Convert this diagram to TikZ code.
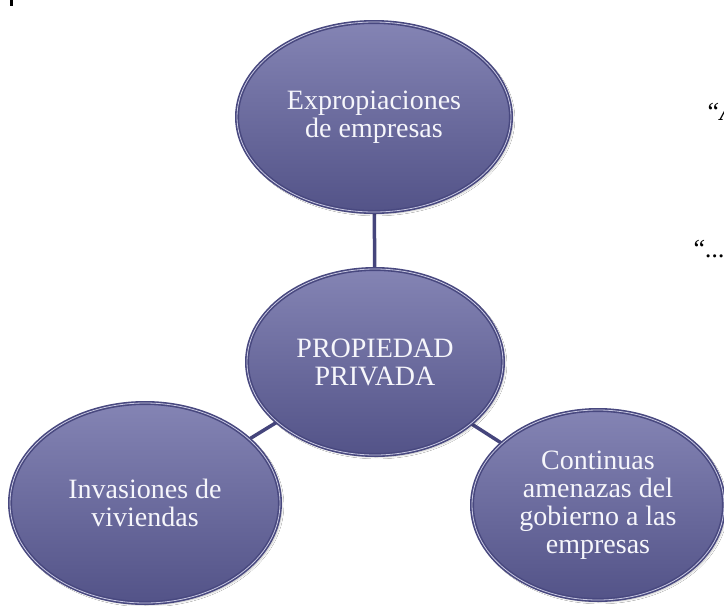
\documentclass[tikz,border=0pt]{standalone}
\usepackage{fontspec}
\setmainfont{Liberation Serif}
\usetikzlibrary{shapes.geometric,shadows.blur}
\pgfdeclarelayer{bg}
\pgfsetlayers{bg,main}
\definecolor{ringc}{HTML}{48487F}
\definecolor{ringlight}{HTML}{C8C8E2}
\definecolor{topc}{HTML}{8484B4}
\definecolor{midc}{HTML}{6A6A9D}
\definecolor{botc}{HTML}{535388}
\definecolor{linec}{HTML}{45457C}
\definecolor{textc}{HTML}{F6F6FB}
\begin{document}
\begin{tikzpicture}[x=1pt,y=-1pt,
  bubble/.style={ellipse, inner sep=0pt, outer sep=0pt,
    top color=topc, middle color=midc, bottom color=botc,
    draw=ringc, double=ringlight, double distance=0.8pt, line width=1.6pt,
    blur shadow={shadow xshift=2pt, shadow yshift=-2pt, shadow opacity=25, shadow blur steps=6},
    text=textc, align=center, font=\fontsize{28}{28}\selectfont},
  conn/.style={draw=linec, line width=3.5pt},
  frag/.style={anchor=base west, inner sep=0pt, font=\fontsize{26}{26}\selectfont\itshape}]
\clip (0,0) rectangle (724,606);
% small cut-off mark at top left
\fill[black] (10,0) rectangle (13,6);
\node[bubble, minimum width=274pt, minimum height=190pt] (e) at (374,117) {Expropiaciones\\de empresas};
\node[bubble, minimum width=256pt, minimum height=186pt] (c) at (375,362) {PROPIEDAD\\PRIVADA};
\node[bubble, minimum width=270pt, minimum height=200pt] (l) at (145,503) {Invasiones de\\viviendas};
\node[bubble, minimum width=252pt, minimum height=190pt] (r) at (598,505) {Continuas\\amenazas del\\gobierno a las\\empresas};
\begin{pgfonlayer}{bg}
\fill[white] (0,0) rectangle (724,606);
\draw[conn] (e) -- (c);
\draw[conn] (c) -- (l);
\draw[conn] (c) -- (r);
\end{pgfonlayer}
% cut-off text fragments at the right edge
\node[frag] (q1) at (705,120) {“A};
\node[frag] (q2) at (691,257) {“...};
\end{tikzpicture}
\end{document}
